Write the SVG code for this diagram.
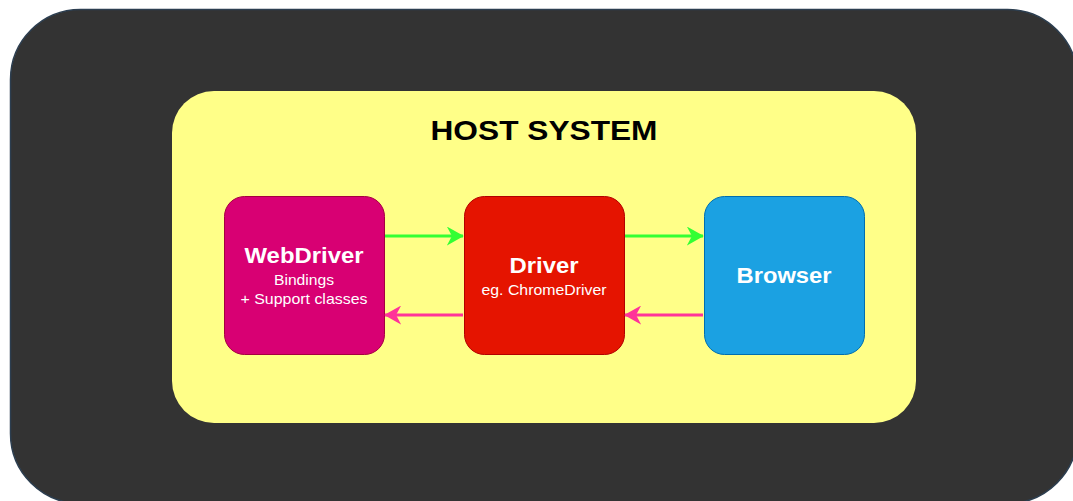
<svg xmlns="http://www.w3.org/2000/svg" width="1073" height="501" viewBox="0 0 1073 501">
<defs>
<style>
.t{font-family:"Liberation Sans",Arial,sans-serif;text-anchor:middle;fill:#ffffff}
.b{font-weight:bold;font-size:22px}
.s{font-size:14.5px}
.node{stroke-width:1}
</style>
<marker id="ag" viewBox="0 0 10 10" refX="9.5" refY="5" markerWidth="17" markerHeight="19" orient="auto" markerUnits="userSpaceOnUse" preserveAspectRatio="none">
<path d="M0,0 L10,5 L0,10 L3,5 Z" fill="#33ff33"/>
</marker>
<marker id="ap" viewBox="0 0 10 10" refX="9.5" refY="5" markerWidth="17" markerHeight="19" orient="auto" markerUnits="userSpaceOnUse" preserveAspectRatio="none">
<path d="M0,0 L10,5 L0,10 L3,5 Z" fill="#ff3399"/>
</marker>
</defs>
<rect width="1073" height="501" fill="#ffffff"/>
<g id="outer">
<rect x="10.5" y="9.5" width="1067" height="494" rx="70" ry="70" fill="#333333" stroke="#2c3e50" stroke-width="1.5"/>
</g>
<g id="host">
<rect x="172" y="91" width="744" height="332" rx="42" ry="42" fill="#ffff88"/>
<text x="544" y="140" font-family="Liberation Sans,Arial,sans-serif" font-weight="bold" font-size="28" text-anchor="middle" fill="#000000" textLength="227" lengthAdjust="spacingAndGlyphs">HOST SYSTEM</text>
</g>
<g id="webdriver">
<rect class="node" x="224.5" y="196.5" width="160" height="158" rx="20" fill="#d80073" stroke="#a50040"/>
<text class="t b" x="304" y="263" textLength="119" lengthAdjust="spacingAndGlyphs">WebDriver</text>
<text class="t s" x="304" y="285" textLength="60" lengthAdjust="spacingAndGlyphs">Bindings</text>
<text class="t s" x="304" y="304" textLength="127" lengthAdjust="spacingAndGlyphs">+ Support classes</text>
</g>
<g id="driver">
<rect class="node" x="464.5" y="196.5" width="160" height="158" rx="20" fill="#e51400" stroke="#b20000"/>
<text class="t b" x="544" y="273" textLength="69" lengthAdjust="spacingAndGlyphs">Driver</text>
<text class="t s" x="544" y="295" textLength="125" lengthAdjust="spacingAndGlyphs">eg. ChromeDriver</text>
</g>
<g id="browser">
<rect class="node" x="704.5" y="196.5" width="160" height="158" rx="20" fill="#1ba1e2" stroke="#006eaf"/>
<text class="t b" x="784" y="283" textLength="95" lengthAdjust="spacingAndGlyphs">Browser</text>
</g>
<g id="connectors" fill="none" stroke-width="3">
<path d="M385,236 L463,236" stroke="#33ff33" marker-end="url(#ag)"/>
<path d="M625,236 L703,236" stroke="#33ff33" marker-end="url(#ag)"/>
<path d="M703,315 L625,315" stroke="#ff3399" marker-end="url(#ap)"/>
<path d="M463,315 L385,315" stroke="#ff3399" marker-end="url(#ap)"/>
</g>
</svg>
